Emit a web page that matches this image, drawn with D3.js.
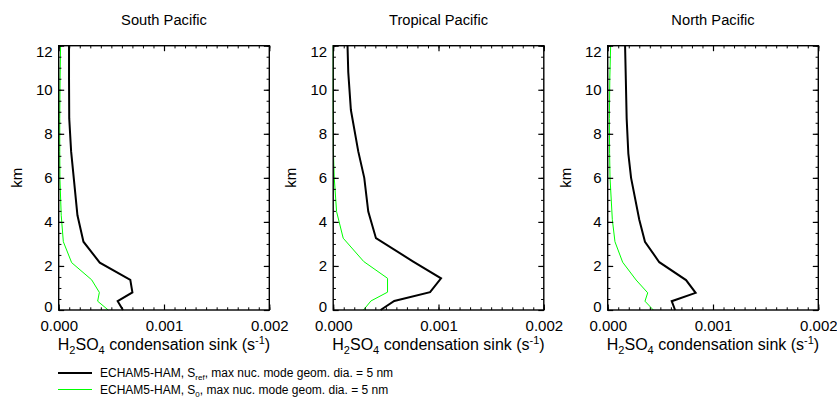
<!DOCTYPE html>
<html>
<head>
<meta charset="utf-8">
<script src="https://cdn.jsdelivr.net/npm/d3@7"></script>
<style>
  body { margin: 0; background: #fff; }
  svg { font-family: "Liberation Sans", Arial, sans-serif; }
</style>
</head>
<body>
<div id="app"></div>
<script>
// Panel titles
const panelTitles = ['South Pacific', 'Tropical Pacific', 'North Pacific'];

// Altitudes (km) of model levels read for each panel
const altSouth = [0, 0.4, 0.8, 1.37, 2.15, 3.1, 4.3, 5.9, 7.2, 8.7, 10.5, 12];
const altTropical = [0, 0.41, 0.81, 1.44, 2.2, 3.26, 4.47, 6.0, 7.2, 9.08, 10.8, 12];
const altNorth = [0, 0.4, 0.78, 1.36, 2.17, 3.1, 4.1, 6.0, 7.1, 8.7, 10.5, 12];

// Condensation sink (s-1), S_ref run (black)
const refSouth = [0.00061, 0.00056, 0.00070, 0.00068, 0.00039, 0.000235, 0.000178, 0.000145, 0.000118, 0.0001, 0.000098, 0.000098];
const refTropical = [0.00045, 0.00058, 0.00092, 0.001024, 0.00076, 0.000406, 0.000333, 0.000295, 0.000238, 0.000168, 0.000143, 0.000136];
const refNorth = [0.00064, 0.000608, 0.000835, 0.000744, 0.00049, 0.000354, 0.0003, 0.000222, 0.000196, 0.00018, 0.000172, 0.000165];

// Condensation sink (s-1), S_0 run (green)
const s0South = [0.00047, 0.00037, 0.000386, 0.000313, 0.000123, 0.000044, 0.000024, 0.000012, 0.00001, 0.00001, 0.000013, 0.000018];
const s0Tropical = [0.000288, 0.000358, 0.000516, 0.000516, 0.00029, 0.000095, 0.000032, 0.00001, 0.000002, 0, 0, 0];
const s0North = [0.000433, 0.000354, 0.00038, 0.00027, 0.000142, 0.000069, 0.000044, 0.000022, 0.000018, 0.000016, 0.00002, 0.000028];

// Axis ticks
const xTicks = [0, 0.001, 0.002];
const yTicks = [0, 2, 4, 6, 8, 10, 12];

const legendLabels = [
    { main: 'ECHAM5-HAM, S', sub: 'ref', rest: ', max nuc. mode geom. dia. = 5 nm', color: '#000', width: 2 },
    { main: 'ECHAM5-HAM, S', sub: '0', rest: ', max nuc. mode geom. dia. = 5 nm', color: '#00ff00', width: 1 }
];

const panels = [
    { title: panelTitles[0], alt: altSouth, ref: refSouth, s0: s0South },
    { title: panelTitles[1], alt: altTropical, ref: refTropical, s0: s0Tropical },
    { title: panelTitles[2], alt: altNorth, ref: refNorth, s0: s0North }
];

const width = 837, height = 397;
const plotLeft = 58.7, plotTop = 45.7, plotW = 210.6, plotH = 264.3, panelStep = 274.5;

const svg = d3.select('#app').append('svg')
    .attr('width', width)
    .attr('height', height);

const x = d3.scaleLinear().domain([0, 0.002]).range([0, plotW]);
const y = d3.scaleLinear().domain([0, 12]).range([plotH, 0]);

const xMinor = d3.range(0, 21).map(i => i * 0.0001);
const yMinor = d3.range(0, 25).map(i => i * 0.5);

const majorLen = 5.5, minorLen = 2.7;

panels.forEach((p, i) => {
    const g = svg.append('g')
        .attr('transform', `translate(${plotLeft + i * panelStep}, ${plotTop})`);

    // profiles
    const line = vals => d3.line()
        .x((d, k) => x(vals[k]))
        .y(d => y(d))(p.alt);

    g.append('path')
        .attr('d', line(p.s0))
        .attr('fill', 'none')
        .attr('stroke', '#00ff00')
        .attr('stroke-width', 1);

    g.append('path')
        .attr('d', line(p.ref))
        .attr('fill', 'none')
        .attr('stroke', '#000')
        .attr('stroke-width', 2);

    // minor ticks on all four sides
    const minorAxes = [
        [d3.axisBottom(x).tickValues(xMinor), `translate(0,${plotH})`],
        [d3.axisTop(x).tickValues(xMinor), 'translate(0,0)'],
        [d3.axisLeft(y).tickValues(yMinor), 'translate(0,0)'],
        [d3.axisRight(y).tickValues(yMinor), `translate(${plotW},0)`]
    ];
    minorAxes.forEach(([ax, tr]) => {
        g.append('g').attr('transform', tr)
            .call(ax.tickSizeInner(-minorLen).tickSizeOuter(0).tickFormat(''))
            .call(s => s.select('.domain').remove())
            .selectAll('line').attr('stroke-width', 1);
    });

    // major ticks
    const xb = g.append('g').attr('transform', `translate(0,${plotH})`)
        .call(d3.axisBottom(x).tickValues(xTicks).tickFormat(d3.format('.3f'))
            .tickSizeInner(-majorLen).tickSizeOuter(0).tickPadding(10));
    const xt = g.append('g')
        .call(d3.axisTop(x).tickValues(xTicks).tickFormat('')
            .tickSizeInner(-majorLen).tickSizeOuter(0));
    const yl = g.append('g')
        .call(d3.axisLeft(y).tickValues(yTicks)
            .tickSizeInner(-majorLen).tickSizeOuter(0).tickPadding(6));
    const yr = g.append('g').attr('transform', `translate(${plotW},0)`)
        .call(d3.axisRight(y).tickValues(yTicks).tickFormat('')
            .tickSizeInner(-majorLen).tickSizeOuter(0));

    [xb, xt, yl, yr].forEach(a => {
        a.select('.domain').remove();
        a.selectAll('line').attr('stroke-width', 1.2);
        a.selectAll('text')
            .attr('fill', '#000')
            .style('font-size', '15px')
            .style('font-family', '"Liberation Sans", Arial, sans-serif');
    });
    // end labels sit inside the axis range
    yl.selectAll('text')
        .attr('y', d => d === 12 ? 6 : (d === 0 ? -3 : 0));

    // frame
    g.append('rect')
        .attr('width', plotW)
        .attr('height', plotH)
        .attr('fill', 'none')
        .attr('stroke', '#000')
        .attr('stroke-width', 1.4);

    // title
    g.append('text')
        .attr('x', plotW / 2)
        .attr('y', -21)
        .attr('text-anchor', 'middle')
        .style('font-size', '14.7px')
        .text(p.title);

    // x axis title
    const xt2 = g.append('text')
        .attr('x', plotW / 2)
        .attr('y', plotH + 40)
        .attr('text-anchor', 'middle')
        .style('font-size', '16px');
    xt2.append('tspan').text('H');
    xt2.append('tspan').attr('dy', 4).style('font-size', '11px').text('2');
    xt2.append('tspan').attr('dy', -4).text('SO');
    xt2.append('tspan').attr('dy', 4).style('font-size', '11px').text('4');
    xt2.append('tspan').attr('dy', -4).text(' condensation sink (s');
    xt2.append('tspan').attr('dy', -6).style('font-size', '11px').text('-1');
    xt2.append('tspan').attr('dy', 6).text(')');

    // y axis title
    g.append('text')
        .attr('transform', `translate(${-37},${plotH / 2}) rotate(-90)`)
        .attr('text-anchor', 'middle')
        .style('font-size', '15px')
        .text('km');
});

// legend
const legend = svg.append('g').attr('transform', 'translate(58,373)');
legendLabels.forEach((l, i) => {
    const row = legend.append('g').attr('transform', `translate(0,${i * 16.5})`);
    row.append('line')
        .attr('x1', 0).attr('x2', 34)
        .attr('stroke', l.color)
        .attr('stroke-width', l.width);
    const t = row.append('text')
        .attr('x', 42)
        .attr('y', 4)
        .style('font-size', '12px');
    t.append('tspan').text(l.main);
    t.append('tspan').attr('dy', 3).style('font-size', '8px').text(l.sub);
    t.append('tspan').attr('dy', -3).text(l.rest);
});
</script>
</body>
</html>
